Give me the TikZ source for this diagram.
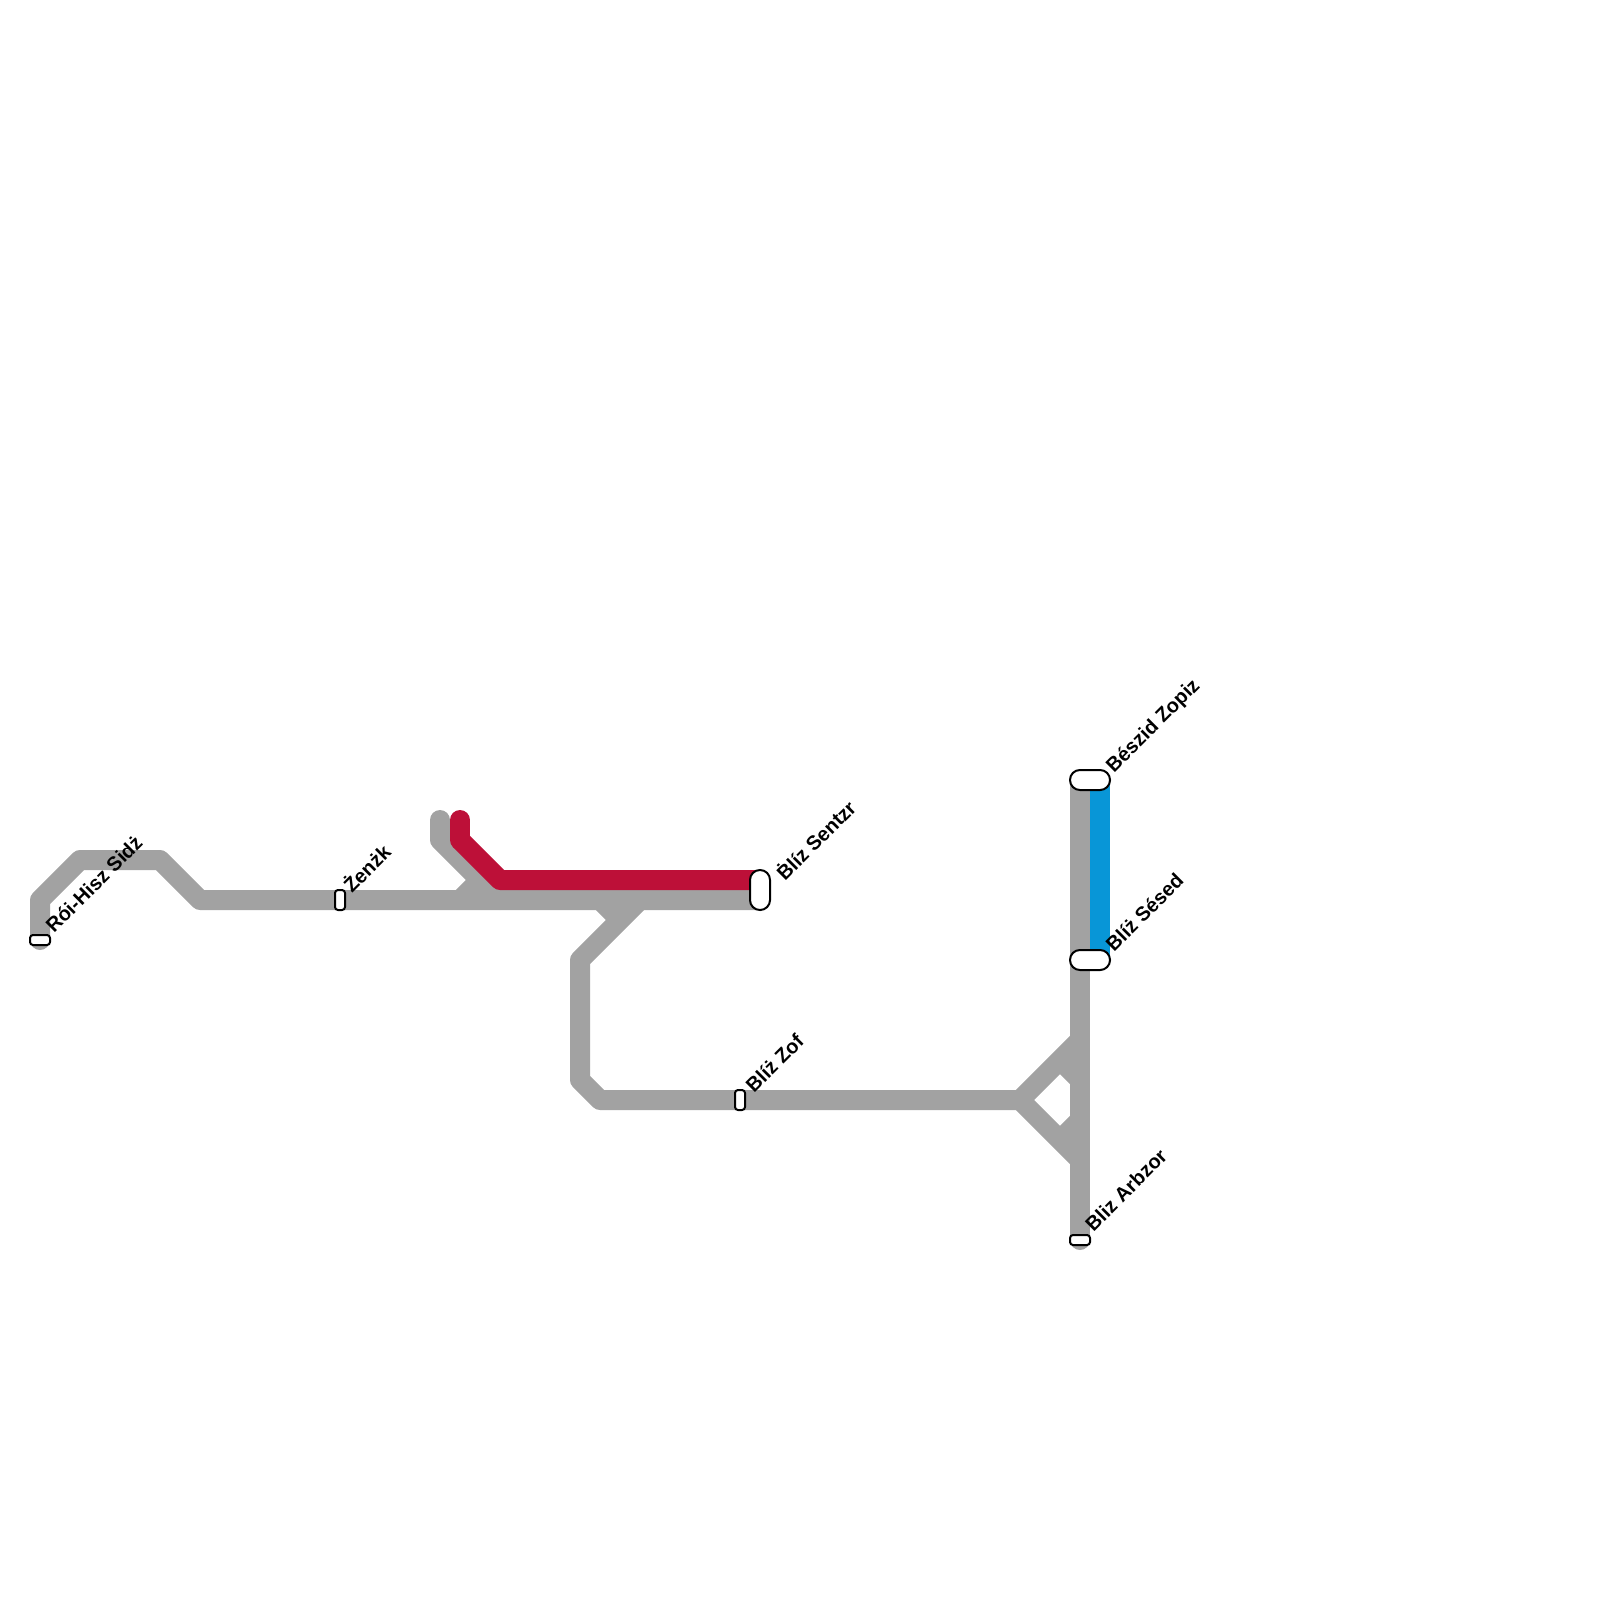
\documentclass[tikz,border=0pt]{standalone}
\usepackage{fontspec}
\setmainfont{Liberation Sans}[Ligatures=TeX]
\definecolor{lgrey}{HTML}{A2A2A2}
\definecolor{lred}{HTML}{BD1038}
\definecolor{lblue}{HTML}{0896D7}
\tikzset{
  x=1pt,y=-1pt,
  track/.style={line width=20pt,line join=round,line cap=butt},
  captrack/.style={track,line cap=round},
  stn/.style={draw=black,line width=2pt,fill=white,rounded corners=#1,inner sep=0pt,outer sep=0pt},
  stnlabel/.style={rotate=45,anchor=base west,inner sep=0pt,font=\fontsize{20}{24}\selectfont\bfseries},
}
\begin{document}
\begin{tikzpicture}
\useasboundingbox (0,0) rectangle (1600,1600);
% junctions
\foreach \n/\x/\y in {a1/40/900,a2/80/860,a3/160/860,a4/200/900,b0/440/820,b1/440/840,b2/500/900,c0/460/820,c1/460/840,c2/500/880,
 d0/460/900,d1/480/880,e0/640/900,e1/580/960,e2/580/1080,e3/600/1100,e4/1020/1100,f0/600/900,f1/620/920,
 g0/1080/1040,g1/1080/1160,g2/1060/1060,g3/1080/1080,g4/1060/1140,g5/1080/1120,
 h0/1080/780,h1/1080/1240,h2/1080/1200,i0/1100/780,i1/1100/960,j0/40/940,k0/760/900,k1/760/880}
  {\coordinate (\n) at (\x,\y);}
% lines
\draw[captrack,lgrey] (j0) -- (a1) -- (a2) -- (a3) -- (a4) -- (k0);
\draw[captrack,lgrey] (b0) -- (b1) -- (b2);
\draw[track,lgrey] (d0) -- (d1);
\draw[track,lgrey] (f0) -- (f1);
\draw[track,lgrey] (e0) -- (e1) -- (e2) -- (e3) -- (e4);
\draw[track,lgrey] (g0) -- (e4) -- (g1);
\draw[track,lgrey] (g2) -- (g3);
\draw[track,lgrey] (g4) -- (g5);
\draw[track,lgrey] (h0) -- (h1);
\draw[captrack,lgrey] (h2) -- (h1);
\draw[track,lblue] (i0) -- (i1);
\draw[track,lred] (c1) -- (c2) -- (k1);
\draw[captrack,lred] (c0) -- (c1);
% stations
\node[stn=3pt,minimum width=20pt,minimum height=10pt] (s1) at (40,940) {};
\node[stn=3pt,minimum width=10pt,minimum height=20pt] (s2) at (340,900) {};
\node[stn=9.9pt,minimum width=20pt,minimum height=40pt] (s3) at (760,890) {};
\node[stn=3pt,minimum width=10pt,minimum height=20pt] (s4) at (740,1100) {};
\node[stn=9.9pt,minimum width=40pt,minimum height=20pt] (s5) at (1090,780) {};
\node[stn=9.9pt,minimum width=40pt,minimum height=20pt] (s6) at (1090,960) {};
\node[stn=3pt,minimum width=20pt,minimum height=10pt] (s7) at (1080,1240) {};
% labels
\node[stnlabel] (l1) at (54,934) {Rói-Hisz Sidż};
\node[stnlabel] (l2) at (352,894) {Żenżk};
\node[stnlabel] (l3) at (785,882) {Ḃlíz Sentzr};
\node[stnlabel] (l4) at (754,1094) {Blíż Zof};
\node[stnlabel] (l5) at (1114,773.5) {Bészid Zopiz};
\node[stnlabel] (l6) at (1114,953) {Blíż Sésed};
\node[stnlabel] (l7) at (1093.5,1232.5) {Bliz Arbzor};
\end{tikzpicture}
\end{document}
